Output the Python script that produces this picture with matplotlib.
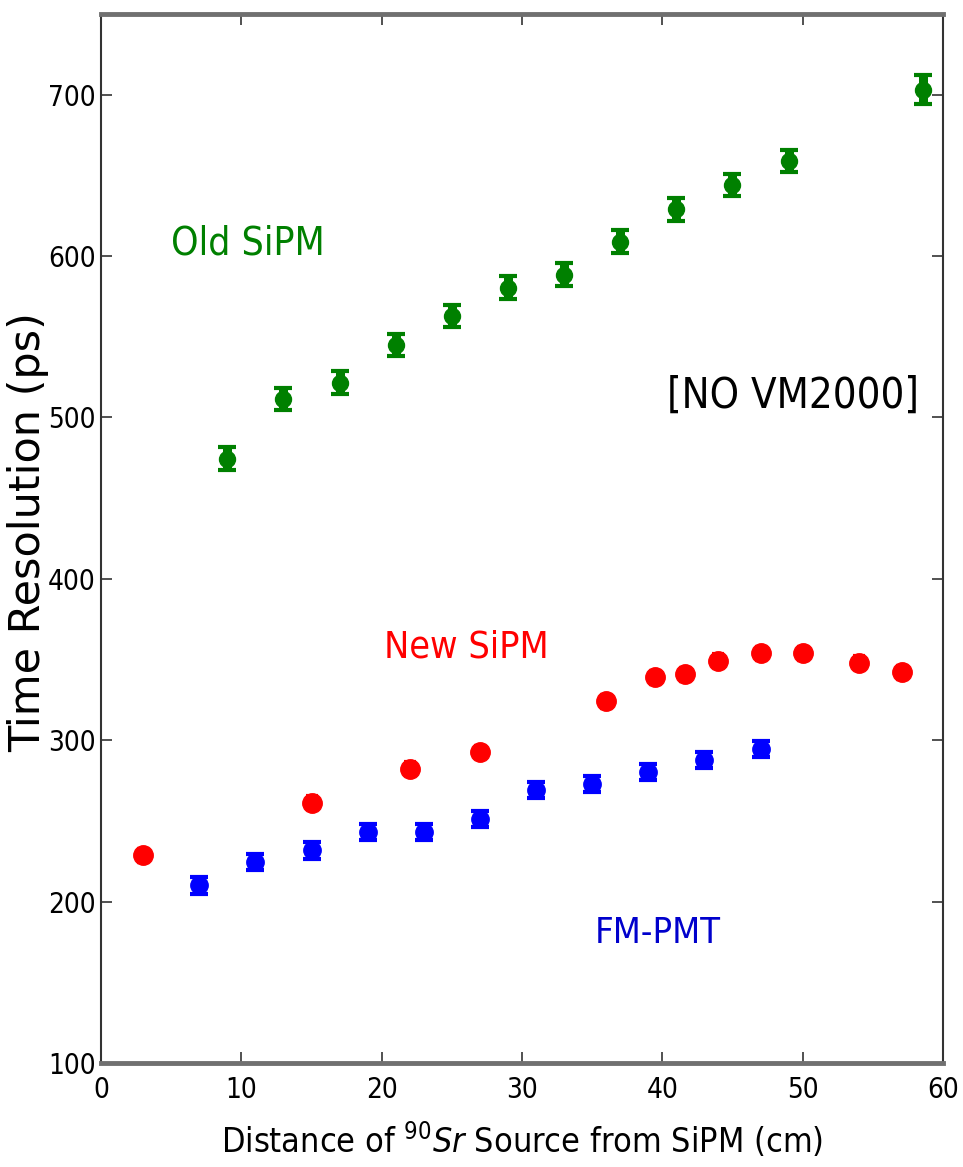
import matplotlib
matplotlib.use("Agg")
import matplotlib.pyplot as plt

# Old SiPM
old_x = [9, 13, 17, 21, 25, 29, 33, 37, 41, 45, 49, 58.6]
old_y = [474.5, 511.5, 521.5, 545, 563, 580.5, 588.5, 609, 629, 644, 659, 703]
old_err = [7, 7, 7, 7, 7, 7, 7, 7, 7, 7, 7, 9]

# New SiPM
new_x = [3, 15, 22, 27, 36, 39.5, 41.6, 44, 47, 50, 54, 57.1]
new_y = [228.6, 261.3, 282.4, 292.7, 324.2, 339, 340.8, 349.3, 353.8, 353.8, 348, 342]
new_err = [4, 4, 4, 4, 4, 4, 4, 4, 4, 4, 4, 4]

# FM-PMT
pmt_x = [7, 11, 15, 19, 23, 27, 31, 35, 39, 43, 47]
pmt_y = [210, 224.4, 231.7, 243, 243, 251, 269, 273, 280.3, 287.6, 294.8]
pmt_err = [5, 5, 5, 5, 5, 5, 5, 5, 5, 5, 5]

xticks = [0, 10, 20, 30, 40, 50, 60]
yticks = [100, 200, 300, 400, 500, 600, 700]

plt.rcParams['font.family'] = ['DejaVu Sans']
plt.rcParams['font.stretch'] = 'condensed'

fig = plt.figure(figsize=(9.63, 11.67), dpi=100)
ax = fig.add_axes([0.1049, 0.0891, 0.8743, 0.8989])

ax.errorbar(old_x, old_y, yerr=old_err, fmt='o', color='g', ms=11.5,
            elinewidth=6.5, capsize=6.5, capthick=3, mec='g')
ax.errorbar(new_x, new_y, yerr=new_err, fmt='o', color='r', ms=14,
            elinewidth=3, capsize=4, capthick=3, mec='r')
ax.errorbar(pmt_x, pmt_y, yerr=pmt_err, fmt='o', color='b', ms=12.5,
            elinewidth=3, capsize=6.5, capthick=3, mec='b')

ax.text(5.0, 601, 'Old SiPM', color='g', fontsize=28, ha='left', va='baseline')
ax.text(20.2, 351, 'New SiPM', color='r', fontsize=27, ha='left', va='baseline')
ax.text(35.2, 174.5, 'FM-PMT', color='#0000cc', fontsize=26, ha='left', va='baseline')
ax.text(40.3, 506, '[NO VM2000]', color='black', fontsize=30, ha='left', va='baseline')

ax.set_xlim(0, 60)
ax.set_ylim(100, 750)
ax.set_xticks(xticks)
ax.set_yticks(yticks)
ax.tick_params(direction='in', length=8, width=1.2, colors='#333333',
               labelcolor='black', labelsize=20, top=True, right=True)
ax.tick_params(axis='x', pad=9)
ax.tick_params(axis='y', pad=4)

ax.set_xlabel(r'Distance of $^{90}Sr$ Source from SiPM (cm)', fontsize=24.5, labelpad=12)
ax.set_ylabel('Time Resolution (ps)', fontsize=31, stretch='normal')
ax.yaxis.set_label_coords(-0.062, 0.506)

for side in ('top', 'bottom'):
    ax.spines[side].set_linewidth(3.5)
    ax.spines[side].set_color('#707070')
for side in ('left', 'right'):
    ax.spines[side].set_linewidth(1.5)
    ax.spines[side].set_color('#333333')

fig.savefig('out.png', dpi=100)
